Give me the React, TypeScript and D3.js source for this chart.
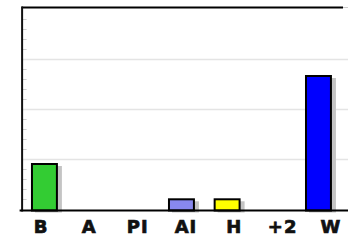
import * as d3 from 'd3';
import React, { useEffect, useRef } from 'react';

const categories = ['B', 'A', 'PI', 'AI', 'H', '+2', 'W'];
const values = [4.65, 0, 0, 1.12, 1.12, 0, 13.45];
const colors = ['#33cc33', '#33cc33', '#33cc33', '#8888ee', '#ffff00', '#33cc33', '#0000ff'];
const yMax = 20;

const Chart = () => {
    const ref = useRef<SVGSVGElement>(null);

    useEffect(() => {
        const width = 348;
        const height = 241;
        const margin = { top: 9.5, right: 6.7, bottom: 31.5, left: 21.6 };

        const svg = d3.select(ref.current);
        svg.selectAll('*').remove();
        svg.attr('width', width).attr('height', height);

        const x = d3.scaleBand()
            .domain(categories)
            .range([margin.left, width - margin.right])
            .paddingInner(0.41)
            .paddingOuter(0.205);

        // labels sit on their own, slightly wider spacing
        const xl = d3.scalePoint()
            .domain(categories)
            .range([41, 331]);

        const y = d3.scaleLinear()
            .domain([0, yMax])
            .range([height - margin.bottom, margin.top]);

        const y0 = y(0);

        // grid lines
        svg.append('g')
            .selectAll('line')
            .data(d3.range(5, yMax, 5))
            .join('line')
            .attr('x1', margin.left)
            .attr('x2', width)
            .attr('y1', d => y(d))
            .attr('y2', d => y(d))
            .attr('stroke', '#e4e4e4')
            .attr('stroke-width', 1.5);

        // minor ticks
        svg.append('g')
            .selectAll('line')
            .data(d3.range(1, yMax).filter(d => d % 5 !== 0))
            .join('line')
            .attr('x1', margin.left + 1)
            .attr('x2', margin.left + 5)
            .attr('y1', d => y(d))
            .attr('y2', d => y(d))
            .attr('stroke', '#d0d0d0')
            .attr('stroke-width', 1);

        // top border
        svg.append('line')
            .attr('x1', margin.left)
            .attr('x2', width - 5)
            .attr('y1', y(yMax) - 2)
            .attr('y2', y(yMax) - 2)
            .attr('stroke', '#000')
            .attr('stroke-width', 2);
        svg.append('line')
            .attr('x1', width - 5)
            .attr('x2', width)
            .attr('y1', y(yMax) - 2)
            .attr('y2', y(yMax) - 2)
            .attr('stroke', '#ccc')
            .attr('stroke-width', 1);

        const bars = categories
            .map((c, i) => ({ c, v: values[i], color: colors[i] }))
            .filter(d => d.v > 0);

        // shadows
        svg.append('g')
            .selectAll('rect')
            .data(bars)
            .join('rect')
            .attr('x', d => x(d.c)! + 4)
            .attr('y', d => y(d.v) + 3)
            .attr('width', x.bandwidth())
            .attr('height', d => y0 - y(d.v))
            .attr('fill', '#c4c4c4');

        svg.append('g')
            .selectAll('rect')
            .data(bars)
            .join('rect')
            .attr('x', d => x(d.c)! + 1)
            .attr('y', d => y(d.v) + 1)
            .attr('width', x.bandwidth() - 2)
            .attr('height', d => y0 - y(d.v))
            .attr('fill', d => d.color)
            .attr('stroke', '#000')
            .attr('stroke-width', 2);

        // left axis
        svg.append('line')
            .attr('x1', margin.left + 0.5)
            .attr('x2', margin.left + 0.5)
            .attr('y1', y(yMax) - 3)
            .attr('y2', y0 + 2)
            .attr('stroke', '#111')
            .attr('stroke-width', 2);

        // bottom axis
        svg.append('line')
            .attr('x1', margin.left - 2)
            .attr('x2', width)
            .attr('y1', y0 + 1)
            .attr('y2', y0 + 1)
            .attr('stroke', '#000')
            .attr('stroke-width', 2);

        svg.append('g')
            .selectAll('text')
            .data(categories)
            .join('text')
            .attr('x', d => xl(d)!)
            .attr('y', y0 + 23.5)
            .attr('text-anchor', 'middle')
            .attr('font-family', 'DejaVu Sans')
            .attr('font-weight', 'bold')
            .attr('font-size', 18)
            .attr('fill', '#111')
            .attr('stroke', '#111')
            .attr('stroke-width', 0.7)
            .attr('letter-spacing', 1)
            .text(d => d);
    }, []);

    return <svg ref={ref} style={{ position: 'absolute', left: 0, top: 0, background: '#fff' }}></svg>;
};

export default function App() {
    return <Chart />;
}
